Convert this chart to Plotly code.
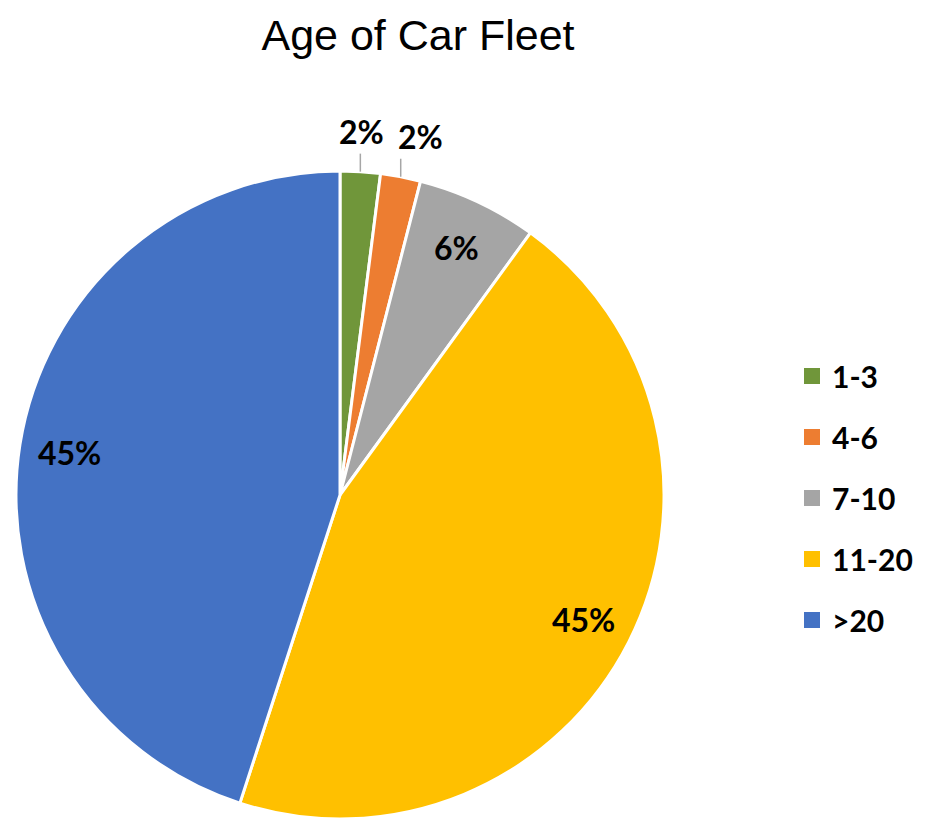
import math
import plotly.graph_objects as go

# Age of car fleet, share of vehicles by age band (years)
age_bands = ["1-3", "4-6", "7-10", "11-20", ">20"]
shares = [2, 2, 6, 45, 45]
label_text = ["2%", "2%", "6%", "45%", "45%"]
colors = ["#70963A", "#ED7D31", "#A5A5A5", "#FFC000", "#4472C4"]
outside = [True, True, False, False, False]

W, H = 925, 820
# pie centre / radius in figure pixels
cx, cy, r = 332, 487, 324

def px2paper(x, y):
    return x / W, 1 - y / H

fig = go.Figure()

fig.add_trace(go.Pie(
    labels=age_bands,
    values=shares,
    textinfo="none",
    sort=False,
    direction="clockwise",
    rotation=0,
    marker=dict(colors=colors, line=dict(color="white", width=3)),
    domain=dict(x=[(cx - r) / W, (cx + r) / W], y=[1 - (cy + r) / H, 1 - (cy - r) / H]),
    showlegend=False,
    hoverinfo="label+percent",
))

# data labels placed along each slice's mid angle (like Excel's best fit)
total = sum(shares)
cum = 0
annos, shapes = [], []
for i, (v, txt) in enumerate(zip(shares, label_text)):
    mid = (cum + v / 2) / total * 2 * math.pi
    cum += v
    sx, sy = math.sin(mid), -math.cos(mid)
    if outside[i]:
        ex, ey = cx + r * sx, cy + r * sy
        x0, y0 = px2paper(ex, ey)
        x1, y1 = px2paper(ex, ey - 18)
        shapes.append(dict(type="line", xref="paper", yref="paper", x0=x0, y0=y0, x1=x1, y1=y1,
                           line=dict(color="#A6A6A6", width=1.5)))
        first = i == 0
        annos.append(dict(x=x1, y=y1, xref="paper", yref="paper", text=txt, showarrow=False,
                          xanchor="center" if first else "left", yanchor="bottom",
                          xshift=1 if first else -5, yshift=1 if first else 1,
                          font=dict(family="Lato", size=32, color="black", weight="bold")))
    else:
        tx, ty = px2paper(cx + 0.845 * r * sx, cy + 0.845 * r * sy)
        annos.append(dict(x=tx, y=ty, xref="paper", yref="paper", text=txt, showarrow=False,
                          xanchor="center", yanchor="middle",
                          font=dict(family="Lato", size=32, color="black", weight="bold")))

# legend entries drawn as separate groups so they can be spaced out
for band, col in zip(age_bands, colors):
    fig.add_trace(go.Scatter(
        x=[None], y=[None], mode="markers", name=band,
        legendgroup=band,
        marker=dict(symbol="square", size=16, color=col),
    ))

fig.update_layout(
    width=W, height=H,
    margin=dict(l=0, r=0, t=0, b=0),
    paper_bgcolor="white", plot_bgcolor="white",
    title=dict(text="Age of Car Fleet", x=410 / W, xanchor="center",
               y=1 - 27 / H, yanchor="middle",
               font=dict(family="Liberation Sans", size=43, color="black")),
    xaxis=dict(visible=False), yaxis=dict(visible=False),
    legend=dict(x=784 / W, xanchor="left", y=1 - 490 / H, yanchor="middle",
                font=dict(family="Lato", size=30, color="black", weight="bold"),
                tracegroupgap=19, itemsizing="trace", bgcolor="rgba(0,0,0,0)"),
    annotations=annos,
    shapes=shapes,
)

fig.write_html("out.html")
